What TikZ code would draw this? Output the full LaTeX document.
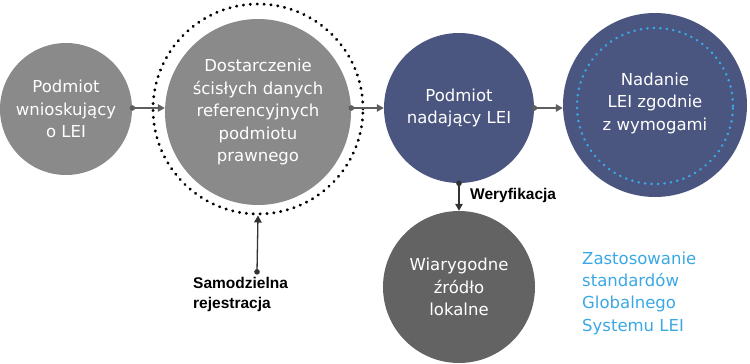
\documentclass[tikz,border=0pt]{standalone}
\usepackage{fontspec}
\setmainfont{DejaVu Sans}
\newfontfamily\labfont{Liberation Sans}
\usetikzlibrary{arrows.meta}
\definecolor{cgray}{HTML}{8A8A8A}
\definecolor{cdark}{HTML}{636363}
\definecolor{cblue}{HTML}{4A5580}
\definecolor{clight}{HTML}{3AA8E4}
\definecolor{carrow}{HTML}{5E5E5E}
\definecolor{carrowd}{HTML}{333333}
\tikzset{
  disc/.style={circle, draw=none, text=white, align=center, inner sep=0pt,
    font=\fontsize{16.5}{22.5}\selectfont},
  lab/.style={align=left, anchor=west, text=black, inner sep=0pt,
    font=\labfont\bfseries\fontsize{15.5}{20}\selectfont},
  conn/.style={line width=1.3pt, draw=carrow, shorten <=-2.6pt,
    {Circle[length=5.5pt]}-{Triangle[length=7pt,width=7.5pt]}},
  connd/.style={conn, draw=carrowd},
  ring/.style={circle, draw, line width=3pt, line cap=round,
    dash pattern=on 0.3pt off 6.6pt, inner sep=0pt, fill=none}
}
\begin{document}
\begin{tikzpicture}[x=1pt,y=-1pt]
\useasboundingbox (0,0) rectangle (750,364);
\node[ring, draw=black, minimum size=210pt] (ring) at (258,109) {};
\node[disc, fill=cgray, minimum size=132pt] (c1) at (66,109) {Podmiot\\wnioskujący\\o LEI};
\node[disc, fill=cgray, minimum size=186pt] (c2) at (258,112) {Dostarczenie\\ścisłych danych\\referencyjnych\\podmiotu\\prawnego};
\node[disc, fill=cblue, minimum size=150pt] (c3) at (459,108) {Podmiot\\nadający LEI};
\node[disc, fill=cblue, minimum size=184pt] (c4) at (655,105) {};
\node[ring, draw=clight, line width=2.6pt, dash pattern=on 0.3pt off 6.2pt, minimum size=156pt] (c4r) at (655,106) {};
\node[disc, fill=none] (c4t) at (655,103) {Nadanie\\LEI zgodnie\\z wymogami};
\node[disc, fill=cdark, minimum size=152pt] (c5) at (459,287) {Wiarygodne\\źródło\\lokalne};
\node[align=left, anchor=west, inner sep=0pt, text=clight, font=\fontsize{16.5}{22.3}\selectfont] (std) at (582,293) {Zastosowanie\\standardów\\Globalnego\\Systemu LEI};
\node[lab] (samo) at (193,294) {Samodzielna\\rejestracja};
\node[lab] (wer) at (470,195) {Weryfikacja};
\coordinate (samoTop) at (257,272);
\draw[conn] (c1.east |- c3.west) -- (c2.west |- c3.west);
\draw[conn] (c2.east |- c3.west) -- (c3.west);
\draw[conn] (c3.east) -- (c4.west |- c3.east);
\draw[connd] (c3.south) -- (c5.north);
\draw[connd] (samoTop) -- (ring.south);
\end{tikzpicture}
\end{document}
